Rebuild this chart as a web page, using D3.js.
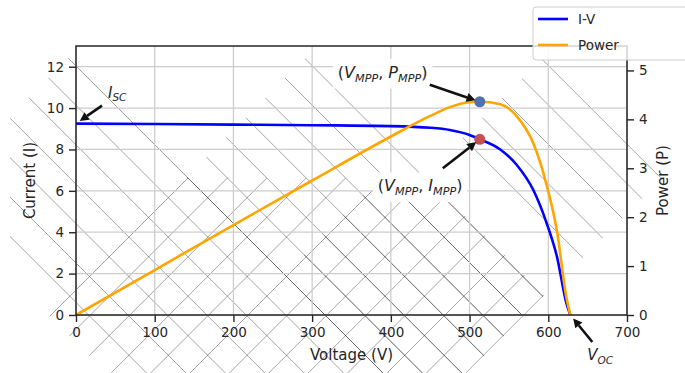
<!DOCTYPE html>
<html>
<head>
<meta charset="utf-8">
<script src="https://cdn.jsdelivr.net/npm/d3@7"></script>
<style>
  body { margin: 0; background: #fff; }
  svg { display: block; }
  text { font-family: 'DejaVu Sans', sans-serif; fill: #262626; }
</style>
</head>
<body>
<script>
// values
const voltage = [0, 100, 200, 300, 400, 450, 475, 500, 513, 539, 560, 581, 598, 611, 623, 628];
const current = [9.25, 9.23, 9.20, 9.17, 9.13, 9.05, 8.94, 8.70, 8.49, 8.00, 7.25, 6.04, 4.43, 2.82, 0.57, 0];
const power = [0, 0.92, 1.84, 2.75, 3.65, 4.07, 4.25, 4.35, 4.36, 4.31, 4.06, 3.51, 2.65, 1.72, 0.36, 0];

const xTicks = [0, 100, 200, 300, 400, 500, 600, 700];
const currentTicks = [0, 2, 4, 6, 8, 10, 12];
const powerTicks = [0, 1, 2, 3, 4, 5];

const mppVoltage = 513;
const mppCurrent = 8.49;
const mppPower = 4.36;
const iscCurrent = 9.25;
const vocVoltage = 628;

// figure layout
const W = 685, H = 373;
const plot = { left: 76, right: 627, top: 46, bottom: 315 };
const tickFont = 13.5;
const labelFont = 15;

// decorative hatch patches, in rotated pixel coords u = x + y, v = x - y
const hatchStep = 39.4;
const hatchPatches = [
  { dirs: ['\\'], u: [128, 1100], v: [-250, 10], xMin: 10 },
  { dirs: ['\\'], u: [365, 838], v: [10, 260] },
  { dirs: ['\\'], u: [602, 839], v: [300, 500] },
  { dirs: ['/'], u: [366, 838], v: [-265, 248], yMin: 178 },
  { dirs: ['\\'], u: [560, 838], v: [40, 250], yMin: 178 }
];

const svg = d3.select('body').append('svg')
  .attr('width', W)
  .attr('height', H);

const x = d3.scaleLinear().domain([0, 700]).range([plot.left, plot.right]);
const yI = d3.scaleLinear().domain([0, 13]).range([plot.bottom, plot.top]);
const yP = d3.scaleLinear().domain([0, 5.5]).range([plot.bottom, plot.top]);

const defs = svg.append('defs');

// hatch layer
const hatchLayer = svg.append('g');
hatchPatches.forEach((p, i) => {
  const pad = 1.5;
  const corners = [
    [p.u[0] - pad, p.v[0] - pad], [p.u[0] - pad, p.v[1] + pad],
    [p.u[1] + pad, p.v[1] + pad], [p.u[1] + pad, p.v[0] - pad]
  ].map(([u, v]) => [(u + v) / 2, (u - v) / 2]);

  defs.append('clipPath').attr('id', 'hp' + i)
    .append('polygon')
    .attr('points', corners.map(c => c.join(',')).join(' '));
  defs.append('clipPath').attr('id', 'hb' + i)
    .append('rect')
    .attr('x', p.xMin ?? -10).attr('y', p.yMin ?? -10)
    .attr('width', W + 20).attr('height', H + 20);

  const g = hatchLayer.append('g').attr('clip-path', `url(#hb${i})`)
    .append('g').attr('clip-path', `url(#hp${i})`);

  for (let k = -20; k <= 40; k++) {
    if (p.dirs.includes('\\')) {
      const c = 10 + k * hatchStep;
      if (c >= p.v[0] - 3 && c <= p.v[1] + 3) {
        g.append('line')
          .attr('x1', c - 60).attr('y1', -60)
          .attr('x2', c + 460).attr('y2', 460);
      }
    }
    if (p.dirs.includes('/')) {
      const d = 11.4 + k * hatchStep;
      if (d >= p.u[0] - 3 && d <= p.u[1] + 3) {
        g.append('line')
          .attr('x1', d + 60).attr('y1', -60)
          .attr('x2', d - 460).attr('y2', 460);
      }
    }
  }
  g.selectAll('line')
    .attr('stroke', '#000')
    .attr('stroke-opacity', 0.36)
    .attr('stroke-width', 1);
});

// grid
const grid = svg.append('g');
grid.selectAll('line.gx')
  .data(xTicks)
  .enter()
  .append('line')
  .attr('x1', d => x(d)).attr('x2', d => x(d))
  .attr('y1', plot.top).attr('y2', plot.bottom);
grid.selectAll('line.gy')
  .data(currentTicks)
  .enter()
  .append('line')
  .attr('x1', plot.left).attr('x2', plot.right)
  .attr('y1', d => yI(d)).attr('y2', d => yI(d));
grid.selectAll('line')
  .attr('stroke', '#cccccc')
  .attr('stroke-width', 1.25);

// curves
const points = voltage.map((v, i) => ({ v, i: current[i], p: power[i] }));

svg.append('path')
  .datum(points)
  .attr('fill', 'none')
  .attr('stroke', '#0000ff')
  .attr('stroke-width', 2.6)
  .attr('stroke-linejoin', 'round')
  .attr('d', d3.line().x(d => x(d.v)).y(d => yI(d.i)).curve(d3.curveMonotoneX));

svg.append('path')
  .datum(points)
  .attr('fill', 'none')
  .attr('stroke', '#ffa500')
  .attr('stroke-width', 2.6)
  .attr('stroke-linejoin', 'round')
  .attr('d', d3.line().x(d => x(d.v)).y(d => yP(d.p)).curve(d3.curveMonotoneX));

// MPP markers
svg.append('circle')
  .attr('cx', x(mppVoltage)).attr('cy', yP(mppPower)).attr('r', 5.5)
  .attr('fill', '#4c72b0');
svg.append('circle')
  .attr('cx', x(mppVoltage)).attr('cy', yI(mppCurrent)).attr('r', 5.5)
  .attr('fill', '#c44e52');

// axes
const axes = svg.append('g');
axes.append('rect')
  .attr('x', plot.left).attr('y', plot.top)
  .attr('width', plot.right - plot.left).attr('height', plot.bottom - plot.top)
  .attr('fill', 'none')
  .attr('stroke', '#262626')
  .attr('stroke-width', 1.5);

function styleAxis(g) {
  g.select('.domain').remove();
  g.selectAll('.tick line').attr('stroke', '#262626').attr('stroke-width', 1.4);
  g.selectAll('.tick text')
    .attr('fill', '#262626')
    .style('font-family', "'DejaVu Sans', sans-serif")
    .style('font-size', tickFont + 'px');
}

axes.append('g')
  .attr('transform', `translate(0,${plot.bottom})`)
  .call(d3.axisBottom(x).tickValues(xTicks).tickFormat(d3.format('d')).tickSize(7).tickPadding(5))
  .call(styleAxis);

axes.append('g')
  .attr('transform', `translate(${plot.left},0)`)
  .call(d3.axisLeft(yI).tickValues(currentTicks).tickFormat(d3.format('d')).tickSize(7).tickPadding(5))
  .call(styleAxis);

axes.append('g')
  .attr('transform', `translate(${plot.right},0)`)
  .call(d3.axisRight(yP).tickValues(powerTicks).tickFormat(d3.format('d')).tickSize(7).tickPadding(5))
  .call(styleAxis);

// axis labels
svg.append('text')
  .attr('x', (plot.left + plot.right) / 2).attr('y', 360)
  .attr('text-anchor', 'middle')
  .style('font-size', labelFont + 'px')
  .text('Voltage (V)');
svg.append('text')
  .attr('transform', `translate(35,${(plot.top + plot.bottom) / 2}) rotate(-90)`)
  .attr('text-anchor', 'middle')
  .style('font-size', labelFont + 'px')
  .text('Current (I)');
svg.append('text')
  .attr('transform', `translate(668,${(plot.top + plot.bottom) / 2}) rotate(-90)`)
  .attr('text-anchor', 'middle')
  .style('font-size', labelFont + 'px')
  .text('Power (P)');

// annotations: [text, italic, subscript] parts
const annotations = [
  { parts: [['I', 1, 0], ['SC', 1, 1]], px: [x(0), yI(iscCurrent)], text: [32, -26], tail: [26, -18], size: 15, box: false },
  { parts: [['(', 0, 0], ['V', 1, 0], ['MPP', 1, 1], [', ', 0, 0], ['P', 1, 0], ['MPP', 1, 1], [')', 0, 0]],
    px: [x(mppVoltage), yP(mppPower)], text: [-142, -24], tail: [-50, -17], size: 16, box: true },
  { parts: [['(', 0, 0], ['V', 1, 0], ['MPP', 1, 1], [', ', 0, 0], ['I', 1, 0], ['MPP', 1, 1], [')', 0, 0]],
    px: [x(mppVoltage), yI(mppCurrent)], text: [-102, 52], tail: [-37, 29], size: 16, box: true },
  { parts: [['V', 1, 0], ['OC', 1, 1]], px: [x(vocVoltage), yP(0)], text: [17, 45], tail: [22, 27], size: 15, box: false }
];

const annLayer = svg.append('g');
annotations.forEach(a => {
  const g = annLayer.append('g');
  const size = a.size;
  const t = g.append('text')
    .attr('x', a.px[0] + a.text[0])
    .attr('y', a.px[1] + a.text[1])
    .style('font-size', size + 'px');
  let shift = 0;
  a.parts.forEach(([s, it, sub]) => {
    const target = sub ? size * 0.24 : 0;
    t.append('tspan')
      .attr('dy', target - shift)
      .style('font-style', it ? 'italic' : 'normal')
      .style('font-size', (sub ? size * 0.7 : size) + 'px')
      .text(s);
    shift = target;
  });
  if (a.box) {
    const bb = t.node().getBBox();
    g.insert('rect', 'text')
      .attr('x', bb.x - 5).attr('y', bb.y - 4)
      .attr('width', bb.width + 10).attr('height', bb.height + 8)
      .attr('fill', '#fff').attr('fill-opacity', 0.9);
  }

  // arrow
  const tx = a.px[0] + a.tail[0], ty = a.px[1] + a.tail[1];
  const dx = tx - a.px[0], dy = ty - a.px[1];
  const len = Math.hypot(dx, dy);
  const ux = dx / len, uy = dy / len;
  const shrink = 4.5, headLen = 9, headW = 4.6;
  const tipX = a.px[0] + ux * shrink, tipY = a.px[1] + uy * shrink;
  const baseX = tipX + ux * headLen, baseY = tipY + uy * headLen;
  g.append('line')
    .attr('x1', tx).attr('y1', ty)
    .attr('x2', baseX).attr('y2', baseY)
    .attr('stroke', '#111').attr('stroke-width', 2.6);
  g.append('polygon')
    .attr('points', [
      [tipX, tipY],
      [baseX - uy * headW, baseY + ux * headW],
      [baseX + uy * headW, baseY - ux * headW]
    ].map(p => p.join(',')).join(' '))
    .attr('fill', '#111');
});

// legend
const legend = svg.append('g');
legend.append('rect')
  .attr('x', 533).attr('y', 7).attr('width', 170).attr('height', 53)
  .attr('rx', 3)
  .attr('fill', '#fff').attr('fill-opacity', 0.8)
  .attr('stroke', '#cccccc').attr('stroke-width', 1);
const legendItems = [
  { label: 'I-V', color: '#0000ff' },
  { label: 'Power', color: '#ffa500' }
];
legendItems.forEach((it, i) => {
  const yy = 19 + i * 26;
  legend.append('line')
    .attr('x1', 538).attr('x2', 568).attr('y1', yy).attr('y2', yy)
    .attr('stroke', it.color).attr('stroke-width', 2.6);
  legend.append('text')
    .attr('x', 578).attr('y', yy + 5)
    .style('font-size', '13.5px')
    .text(it.label);
});
</script>
</body>
</html>
